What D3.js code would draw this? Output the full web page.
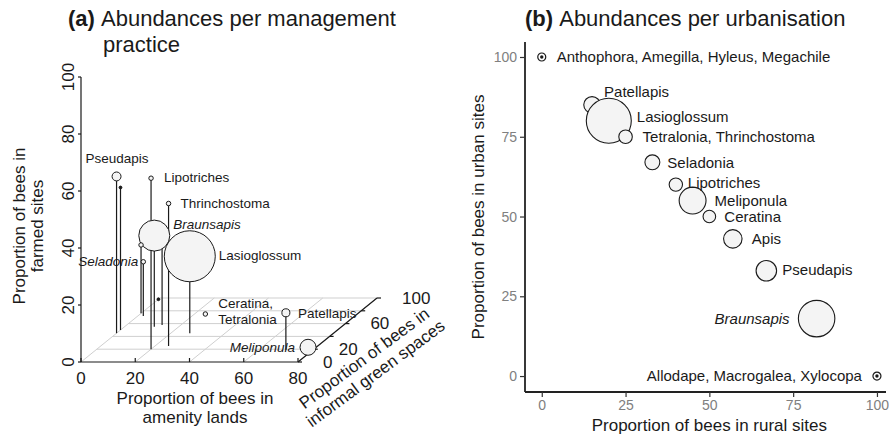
<!DOCTYPE html>
<html>
<head>
<meta charset="utf-8">
<script src="https://cdn.jsdelivr.net/npm/d3@7"></script>
<style>
  body { margin: 0; background: #fff; }
  svg { display: block; font-family: "Liberation Sans", Arial, sans-serif; }
</style>
</head>
<body>
<svg width="889" height="436"></svg>
<script>
// (a) proportions per management practice (amenity, informal green, farmed)
const genusA    = ["Pseudapis", "", "Lipotriches", "Thrinchostoma", "", "Braunsapis", "",
                   "Seladonia", "Lasioglossum", "", "Ceratina,\nTetralonia", "Patellapis", "Meliponula"];
const amenityA  = [0, 0, 20, 25, 13, 11, 0, 2, 27, 0, 24, 70, 77];
const informalA = [45, 50, 20, 25, 58, 55, 76, 72, 45, 98, 75, 19, 23];
const farmedA   = [55, 50, 60, 50, 29, 32, 24, 19, 27, 0, 0, 13, 0];
const abundA    = [20, 2, 5, 5, 4, 240, 5, 5, 650, 2, 5, 16, 64];

// (b) proportions per urbanisation
const genusB = ["Anthophora, Amegilla, Hyleus, Megachile", "Patellapis", "Lasioglossum",
                "Tetralonia, Thrinchostoma", "Seladonia", "Lipotriches", "Meliponula",
                "Ceratina", "Apis", "Pseudapis", "Braunsapis", "Allodape, Macrogalea, Xylocopa"];
const ruralB = [0, 15, 20, 25, 33, 40, 45, 50, 57, 67, 82, 100];
const urbanB = [100, 85, 80, 75, 67, 60, 55, 50, 43, 33, 18, 0];
const abundB = [1, 69, 510, 46, 56, 45, 182, 40, 86, 106, 335, 1];

const italicA = ["Braunsapis", "Seladonia", "Meliponula"];
const italicB = ["Braunsapis"];

const ticksAx = [0, 20, 40, 60, 80];
const ticksAz = [0, 20, 40, 60, 80, 100];
const ticksAy = [0, 20, 40, 60, 80, 100];
const tickLabelsAy = [0, 20, 60, 100];
const ticksB = [0, 25, 50, 75, 100];

// label placement (pixel offsets from the mark)
const labelPosA = [[-31, -18, "start"], null, [13, -1, "start"], [12, -1, "start"], null,
                   [19, -12, "start"], null, [-5, -1, "end"], [29, -1, "start"], null,
                   [13, -11, "start"], [12, 0, "start"], [-13, 0, "end"]];
const labelPosB = [[15, 0, "start"], [12, -13, "start"], [28, -4, "start"], [17, 0, "start"],
                   [15, 0, "start"], [12, -2, "start"], [22, 0, "start"], [15, 0, "start"],
                   [19, 0, "start"], [16, -1, "start"], [-27, 0, "end"], [-15, -1, "end"]];

const svg = d3.select("svg");
const ink = "#1a1a1a";
const fillC = "#f4f4f4";

// ---------- panel (a): oblique 3d projection ----------
const xA = d3.scaleLinear().domain([0, 80]).range([81, 298]);
const zA = d3.scaleLinear().domain([0, 100]).range([362, 77]);
const yA = d3.scaleLinear().domain([0, 100]).range([0, 1]);
const depth = [79, -64];
const proj = (x, y, z) => [xA(x) + depth[0] * yA(y), zA(z) + depth[1] * yA(y)];
const line = d3.line();

const gA = svg.append("g");

// floor grid
const grid = gA.append("g").attr("stroke", "#cfcfcf").attr("stroke-width", 1).attr("fill", "none");
ticksAy.slice(1).forEach(v => grid.append("path").attr("d", line([proj(0, v, 0), proj(80, v, 0)])));
ticksAx.forEach(v => grid.append("path").attr("d", line([proj(v, 0, 0), proj(v, 100, 0)])));

// axes
const axA = gA.append("g").attr("stroke", ink).attr("stroke-width", 1.2).attr("fill", "none");
axA.append("path").attr("d", line([proj(0, 0, 0), proj(80, 0, 0)]));
axA.append("path").attr("d", line([proj(0, 0, 0), proj(0, 0, 100)]));
axA.append("path").attr("d", line([proj(80, 0, 0), proj(80, 100, 0)]));
ticksAx.forEach(v => { const p = proj(v, 0, 0); axA.append("path").attr("d", line([p, [p[0], p[1] - 4]])); });
ticksAz.forEach(v => { const p = proj(0, 0, v); axA.append("path").attr("d", line([[p[0] - 3, p[1]], p])); });
ticksAy.forEach(v => { const p = proj(80, v, 0); axA.append("path").attr("d", line([p, [p[0] + 4, p[1]]])); });

gA.selectAll(".xt").data(ticksAx).enter().append("text")
  .attr("x", d => proj(d, 0, 0)[0]).attr("y", 378)
  .attr("text-anchor", "middle").attr("dominant-baseline", "central")
  .attr("font-size", 17).attr("fill", ink).text(d => d);
gA.selectAll(".zt").data(ticksAz).enter().append("text")
  .attr("transform", d => `translate(68,${proj(0, 0, d)[1]}) rotate(-90)`)
  .attr("text-anchor", "middle").attr("dominant-baseline", "central")
  .attr("font-size", 17).attr("fill", ink).text(d => d);
gA.selectAll(".yt").data(tickLabelsAy).enter().append("text")
  .attr("x", d => proj(80, d, 0)[0] + 25).attr("y", d => proj(80, d, 0)[1])
  .attr("dominant-baseline", "central")
  .attr("font-size", 17).attr("fill", ink).text(d => d);

// axis titles
const titleLines = (g, lines, x, y, rot, step, size) => {
  const t = g.append("g").attr("transform", `translate(${x},${y}) rotate(${rot})`);
  lines.forEach((s, i) => t.append("text")
    .attr("y", (i - (lines.length - 1) / 2) * step)
    .attr("text-anchor", "middle").attr("dominant-baseline", "central")
    .attr("font-size", size).attr("fill", ink).text(s));
};
titleLines(gA, ["Proportion of bees in", "amenity lands"], 195, 408, 0, 19, 17);
titleLines(gA, ["Proportion of bees in", "farmed sites"], 28, 226, -90, 18, 17);
titleLines(gA, ["Proportion of bees in", "informal green spaces"], 370, 366, -36.5, 19, 17);

// points with drop lines
const rA = d3.scaleSqrt().domain([0, 650]).range([0, 25.5]);
const ptsA = genusA.map((g, i) => ({
  name: g, p: proj(amenityA[i], informalA[i], farmedA[i]),
  f: proj(amenityA[i], informalA[i], 0), r: rA(abundA[i]), lab: labelPosA[i]
}));
gA.append("g").selectAll("path").data(ptsA.filter(d => d.f[1] - d.p[1] > 1)).enter().append("path")
  .attr("d", d => line([d.p, d.f])).attr("stroke", ink).attr("stroke-width", 1.2);
gA.append("g").selectAll("circle").data(ptsA).enter().append("circle")
  .attr("cx", d => d.p[0]).attr("cy", d => d.p[1]).attr("r", d => d.r)
  .attr("fill", d => d.r < 1.8 ? ink : fillC).attr("stroke", ink).attr("stroke-width", 1);

const labA = gA.append("g").selectAll("text").data(ptsA.filter(d => d.lab)).enter().append("text")
  .attr("x", d => d.p[0] + d.lab[0]).attr("y", d => d.p[1] + d.lab[1])
  .attr("text-anchor", d => d.lab[2]).attr("dominant-baseline", "central")
  .attr("font-size", 13.5).attr("fill", ink)
  .attr("font-style", d => italicA.includes(d.name) ? "italic" : null);
labA.each(function (d) {
  const parts = d.name.split("\n");
  d3.select(this).selectAll("tspan").data(parts).enter().append("tspan")
    .attr("x", d.p[0] + d.lab[0]).attr("dy", (s, i) => i === 0 ? 0 : 16).text(s => s);
});

// title (a)
const tA = svg.append("text").attr("x", 68).attr("y", 26).attr("font-size", 22).attr("fill", ink);
const boldA = tA.append("tspan").attr("font-weight", "bold").text("(a) ");
tA.append("tspan").text("Abundances per management");
svg.append("text").attr("x", 68 + boldA.node().getComputedTextLength() + 2).attr("y", 52)
  .attr("font-size", 22).attr("fill", ink).text("practice");

// ---------- panel (b): scatter ----------
const xB = d3.scaleLinear().domain([-5, 102.7]).range([525, 886]);
const yB = d3.scaleLinear().domain([-5, 104.7]).range([392, 42]);
const gB = svg.append("g");

const axisX = gB.append("g").attr("transform", `translate(0,${yB.range()[0]})`)
  .call(d3.axisBottom(xB).tickValues(ticksB).tickSize(5).tickPadding(3));
const axisY = gB.append("g").attr("transform", `translate(${xB.range()[0]},0)`)
  .call(d3.axisLeft(yB).tickValues(ticksB).tickSize(5).tickPadding(3));
[axisX, axisY].forEach(a => {
  a.select(".domain").attr("stroke", "#222").attr("stroke-width", 1.8);
  a.selectAll(".tick line").attr("stroke", "#333").attr("stroke-width", 1.2);
  a.selectAll(".tick text").attr("fill", "#808080").attr("font-size", 14)
    .attr("font-family", "Liberation Sans, Arial, sans-serif");
});
axisX.select(".domain").attr("d", `M${xB.range()[0]},0H${xB.range()[1]}`);
axisY.select(".domain").attr("d", `M0,${yB.range()[0]}V${yB.range()[1]}`);

gB.append("text").attr("x", (xB(0) + xB(100)) / 2).attr("y", 425)
  .attr("text-anchor", "middle").attr("dominant-baseline", "central")
  .attr("font-size", 17).attr("fill", ink).text("Proportion of bees in rural sites");
gB.append("text").attr("transform", `translate(478,${(yB.range()[0] + yB.range()[1]) / 2}) rotate(-90)`)
  .attr("text-anchor", "middle").attr("dominant-baseline", "central")
  .attr("font-size", 17).attr("fill", ink).text("Proportion of bees in urban sites");

const rB = d3.scaleSqrt().domain([0, 510]).range([0, 22.5]);
const ptsB = genusB.map((g, i) => ({
  name: g, x: xB(ruralB[i]), y: yB(urbanB[i]), r: rB(abundB[i]), lab: labelPosB[i]
}));
const small = ptsB.filter(d => d.r < 3);
gB.append("g").selectAll("circle").data(ptsB.filter(d => d.r >= 3)).enter().append("circle")
  .attr("cx", d => d.x).attr("cy", d => d.y).attr("r", d => d.r)
  .attr("fill", fillC).attr("stroke", ink).attr("stroke-width", 1.1);
const ring = gB.append("g").selectAll("g").data(small).enter().append("g")
  .attr("transform", d => `translate(${d.x},${d.y})`);
ring.append("circle").attr("r", 4).attr("fill", "#fff").attr("stroke", ink).attr("stroke-width", 1.2);
ring.append("circle").attr("r", 1.7).attr("fill", ink);

gB.append("g").selectAll("text").data(ptsB).enter().append("text")
  .attr("x", d => d.x + d.lab[0]).attr("y", d => d.y + d.lab[1])
  .attr("text-anchor", d => d.lab[2]).attr("dominant-baseline", "central")
  .attr("font-size", 15).attr("fill", ink)
  .attr("font-style", d => italicB.includes(d.name) ? "italic" : null)
  .text(d => d.name);

const tB = svg.append("text").attr("x", 525).attr("y", 26).attr("font-size", 22).attr("fill", ink);
tB.append("tspan").attr("font-weight", "bold").text("(b) ");
tB.append("tspan").text("Abundances per urbanisation");
</script>
</body>
</html>
